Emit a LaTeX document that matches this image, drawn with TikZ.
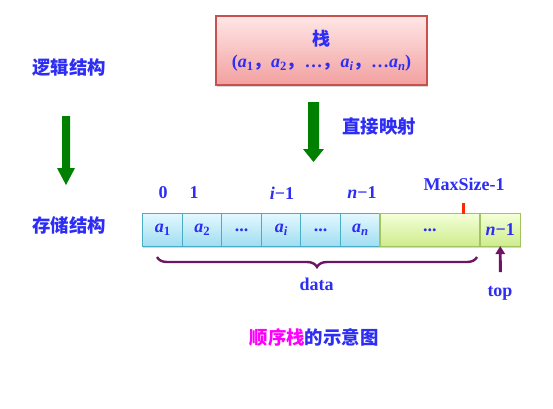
\documentclass[tikz,border=0pt]{standalone}
\usepackage{fontspec}
\setmainfont{Liberation Serif}
\newfontfamily\cjk{Noto Sans CJK SC}
\usetikzlibrary{decorations.pathreplacing,shadows,arrows.meta}
\definecolor{tblue}{RGB}{45,45,245}
\definecolor{agreen}{RGB}{0,128,0}
\definecolor{purp}{RGB}{110,20,100}
\definecolor{cbtop}{RGB}{226,248,254}
\definecolor{cbbot}{RGB}{160,222,242}
\definecolor{cbbd}{RGB}{75,172,198}
\definecolor{cgtop}{RGB}{244,255,216}
\definecolor{cgbot}{RGB}{206,236,140}
\definecolor{cgbd}{RGB}{160,196,96}
\definecolor{rtop}{RGB}{255,230,230}
\definecolor{rbot}{RGB}{242,160,160}
\definecolor{rbd}{RGB}{200,80,77}
\definecolor{tickred}{RGB}{255,40,0}
\definecolor{mag}{RGB}{255,0,255}
\newcommand\mysub[1]{\raisebox{-0.4ex}{\fontsize{9.5}{10}\selectfont #1}}
\newcommand\av[1]{\textit{a}\mysub{#1}}
\newcommand\cm{{\cjk ，}}
\begin{document}
\begin{tikzpicture}[x=0.75pt,y=-0.75pt,
  lbl/.style={text=tblue,font=\fontsize{13.5}{16}\selectfont\bfseries,inner sep=0},
  cjklbl/.style={text=tblue,font=\fontsize{13.8}{16}\selectfont\cjk\bfseries,inner sep=0},
  cellbase/.style={minimum height=24.4pt,inner sep=0,outer sep=0,anchor=west,
    text=tblue,font=\fontsize{13.5}{16}\selectfont\bfseries,line width=0.8pt,
    drop shadow={shadow xshift=0pt,shadow yshift=-1.3pt,fill=black!45,opacity=0.35}},
  cellb/.style={cellbase,draw=cbbd,top color=cbtop,bottom color=cbbot,minimum width=29.66pt},
  cellg/.style={cellbase,draw=cgbd,top color=cgtop,bottom color=cgbot},
  greenarrow/.style={fill=agreen},
  purpline/.style={draw=purp,line width=2.2pt}
]
\useasboundingbox (0,0) rectangle (553,408);

% stack box
\node[draw=rbd,line width=0.9pt,top color=rtop,bottom color=rbot,
  minimum width=158.25pt,minimum height=51.75pt,inner sep=0,
  drop shadow={shadow xshift=0.6pt,shadow yshift=-1.2pt,fill=black!45,opacity=0.35},
  text=tblue,font=\fontsize{13.5}{16.3}\selectfont\bfseries,align=center]
  (stack) at (321.5,50.5) {{\cjk\bfseries 栈}\\(\av{1}\cm\av{2}\cm…\cm\av{\textit{i}}\cm…\av{\textit{n}})};

% side labels
\node[cjklbl] (logic) at (69,68) {逻辑结构};
\node[cjklbl] (store) at (69,225) {存储结构};
\node[cjklbl] (map) at (379,127) {直接映射};

% green arrows
\fill[greenarrow] (62,116) -- (70,116) -- (70,168) -- (75,168) -- (66,185) -- (57,168) -- (62,168) -- cycle;
\fill[greenarrow] (308,102) -- (319,102) -- (319,149) -- (324,149) -- (313.5,162) -- (303,149) -- (308,149) -- cycle;

% cells
\node[cellb] (c1) at (142.7,229.8) {\av{1}};
\node[cellb] (c2) at (c1.east) {\av{2}};
\node[cellb] (c3) at (c2.east) {...};
\node[cellb] (c4) at (c3.east) {\av{\textit{i}}};
\node[cellb] (c5) at (c4.east) {...};
\node[cellb] (c6) at (c5.east) {\av{\textit{n}}};
\node[cellg,minimum width=75pt] (c7) at (c6.east) {...};
\node[cellg,minimum width=30.4pt] (c8) at (c7.east) {\textit{n}−1};

% index labels
\node[lbl] (i0) at (163,193) {0};
\node[lbl] (i1) at (194,193) {1};
\node[lbl] (ii) at (282,193) {\textit{i}−1};
\node[lbl] (in) at (362,193) {\textit{n}−1};
\node[lbl] (max) at (464,184) {MaxSize-1};
\coordinate (tk) at (463.5,203);
\draw[tickred,line width=2.2pt] (tk) -- (tk |- c7.north);

% brace
\draw[purp,line width=1.8pt,decorate,decoration={brace,mirror,amplitude=7.5pt}]
  (157,257) -- (477,257);
\node[lbl] (data) at (316.7,284) {data};

% top pointer
\node[lbl] (top) at (500,293) {top};
\coordinate (ts) at (500.3,272);
\draw[purpline,-{Triangle[width=7pt,length=6pt]}] (ts) -- (c8.south);

% caption
\node[cjklbl] (cap) at (314,337) {\textcolor{mag}{顺序栈}的示意图};
\end{tikzpicture}
\end{document}
